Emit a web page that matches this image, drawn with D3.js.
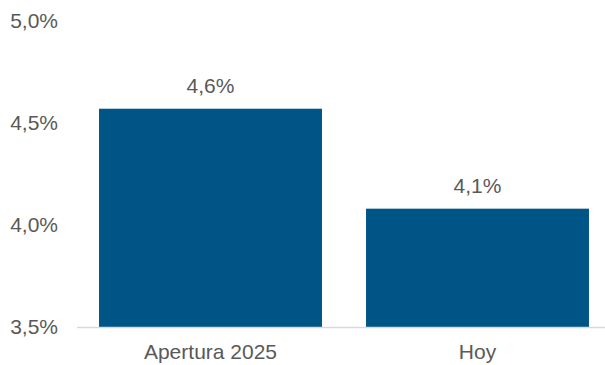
<!DOCTYPE html>
<html>
<head>
<meta charset="utf-8">
<script src="https://cdn.jsdelivr.net/npm/d3@7"></script>
<style>
  body { margin: 0; background: #fff; }
  svg { display: block; font-family: Arial, "Liberation Sans", sans-serif; }
</style>
</head>
<body>
<div id="chart"></div>
<script>
const categories = ["Apertura 2025", "Hoy"];
const values = [4.57, 4.08];
const value_labels = ["4,6%", "4,1%"];
const y_ticks = [3.5, 4.0, 4.5, 5.0];

const width = 605, height = 365;
const font_size = 21;
const fmt = v => v.toFixed(1).replace(".", ",") + "%";

const svg = d3.select("#chart").append("svg")
    .attr("width", width)
    .attr("height", height);

const x = d3.scaleBand()
    .domain(categories)
    .range([77, 611])
    .paddingInner(0.165)
    .paddingOuter(0.0825);

const y = d3.scaleLinear()
    .domain([3.5, 5.0])
    .range([327, 21]);

// y tick labels (no gridlines)
svg.append("g")
  .selectAll("text")
  .data(y_ticks)
  .join("text")
    .attr("x", 58)
    .attr("y", d => y(d))
    .attr("dy", "0.35em")
    .attr("text-anchor", "end")
    .style("font-size", font_size + "px")
    .attr("fill", "#595959")
    .text(fmt);

// bars
svg.append("g")
  .selectAll("rect")
  .data(values)
  .join("rect")
    .attr("x", (d, i) => x(categories[i]))
    .attr("width", x.bandwidth())
    .attr("y", d => y(d))
    .attr("height", d => y(3.5) - y(d))
    .attr("fill", "#005587");

// value labels
svg.append("g")
  .selectAll("text")
  .data(values)
  .join("text")
    .attr("x", (d, i) => x(categories[i]) + x.bandwidth() / 2)
    .attr("y", d => y(d) - 16)
    .attr("text-anchor", "middle")
    .style("font-size", font_size + "px")
    .attr("fill", "#595959")
    .text((d, i) => value_labels[i]);

// baseline
svg.append("line")
    .attr("x1", 77)
    .attr("x2", width)
    .attr("y1", y(3.5) + 0.5)
    .attr("y2", y(3.5) + 0.5)
    .attr("stroke", "#d9d9d9")
    .attr("stroke-width", 1.5);

// category labels
svg.append("g")
  .selectAll("text")
  .data(categories)
  .join("text")
    .attr("x", d => x(d) + x.bandwidth() / 2)
    .attr("y", 359)
    .attr("text-anchor", "middle")
    .style("font-size", font_size + "px")
    .attr("fill", "#595959")
    .text(d => d);
</script>
</body>
</html>
